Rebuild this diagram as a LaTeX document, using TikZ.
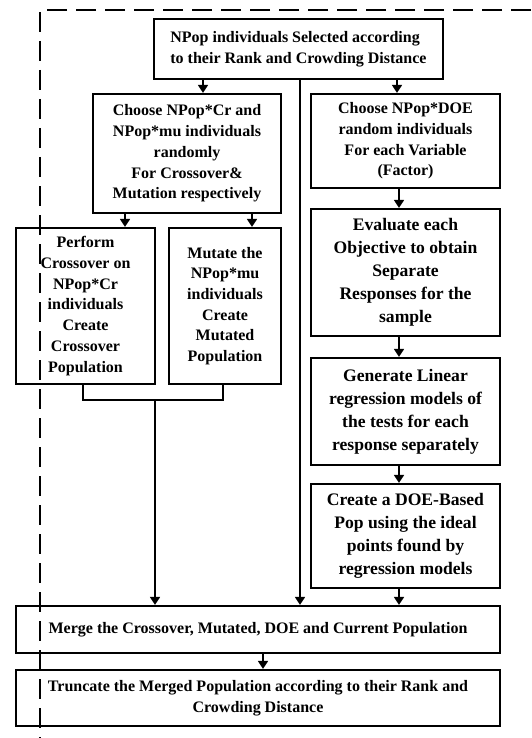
\documentclass[tikz,border=0pt]{standalone}
\usepackage{fontspec}
\setmainfont{Liberation Serif}
\usetikzlibrary{shapes,arrows.meta}

\begin{document}
\begin{tikzpicture}[x=1pt,y=-1pt]
		\tikzstyle {block} = [draw, line width=2.2pt, inner sep=0pt, align=center, font=\bfseries\fontsize{16}{20.7}\selectfont]
		\tikzstyle {big block} = [block, font=\bfseries\fontsize{17.6}{23}\selectfont]
		\tikzstyle {link} = [line width=1.6pt]
		\tikzstyle {arrow} = [link, -{Triangle[length=8pt,width=10pt]}]
		\tikzstyle {frame} = [line width=2pt, dash pattern=on 20pt off 9pt]

		\useasboundingbox (0,0) rectangle (531,738);

		\draw[frame] (531,10) -- (40,10) -- (40,738);

		\node[block, align=left, minimum width=289pt, minimum height=60pt] (top) at (298.5,49) {NPop individuals Selected according\\to their Rank and Crowding Distance};

		\node[block, minimum width=188pt, minimum height=119pt] (crsel) at (187,153.5) {Choose NPop*Cr and\\NPop*mu individuals\\randomly\\For Crossover\&\\Mutation respectively};
		\node[block, minimum width=189pt, minimum height=94pt] (doesel) at (405.5,141) {Choose NPop*DOE\\random individuals\\For each Variable\\(Factor)};

		\node[block, minimum width=139pt, minimum height=156pt] (perf) at (85.5,306) {Perform\\Crossover on\\NPop*Cr\\individuals\\Create\\Crossover\\Population};
		\node[block, minimum width=112pt, minimum height=156pt] (mut) at (225,306) {Mutate the\\NPop*mu\\individuals\\Create\\Mutated\\Population};

		\node[big block, minimum width=189pt, minimum height=127pt] (eval) at (405.5,272.5) {Evaluate each\\Objective to obtain\\Separate\\Responses for the\\sample};
		\node[big block, minimum width=189pt, minimum height=107pt] (gen) at (405.5,411.5) {Generate Linear\\regression models of\\the tests for each\\response separately};
		\node[big block, minimum width=189pt, minimum height=104pt] (crea) at (405.5,536) {Create a DOE-Based\\Pop using the ideal\\points found by\\regression models};

		\node[block, minimum width=484pt, minimum height=47pt] (merge) at (258,629.5) {Merge the Crossover, Mutated, DOE and Current Population};
		\node[block, minimum width=484pt, minimum height=56pt] (trunc) at (258,698) {Truncate the Merged Population according to their Rank and\\Crowding Distance};

		\draw[arrow] (top.south -| 203,0) -- (crsel.north -| 203,0);
		\draw[arrow] (top.south -| 397,0) -- (doesel.north -| 397,0);
		\draw[arrow] (top.south -| 300,0) -- (merge.north -| 300,0);

		\draw[arrow] (crsel.south -| 125,0) -- (perf.north -| 125,0);
		\draw[arrow] (crsel.south -| 252,0) -- (mut.north -| 252,0);

		\draw[link] (perf.south -| 83,0) -- (83,400) -- (223,400) -- (mut.south -| 223,0);
		\draw[arrow] (155,400) -- (merge.north -| 155,0);

		\draw[arrow] (doesel.south -| 399,0) -- (eval.north -| 399,0);
		\draw[arrow] (eval.south -| 399,0) -- (gen.north -| 399,0);
		\draw[arrow] (gen.south -| 399,0) -- (crea.north -| 399,0);
		\draw[arrow] (crea.south -| 399,0) -- (merge.north -| 399,0);

		\draw[arrow] (merge.south -| 263,0) -- (trunc.north -| 263,0);
	\end{tikzpicture}
\end{document}
